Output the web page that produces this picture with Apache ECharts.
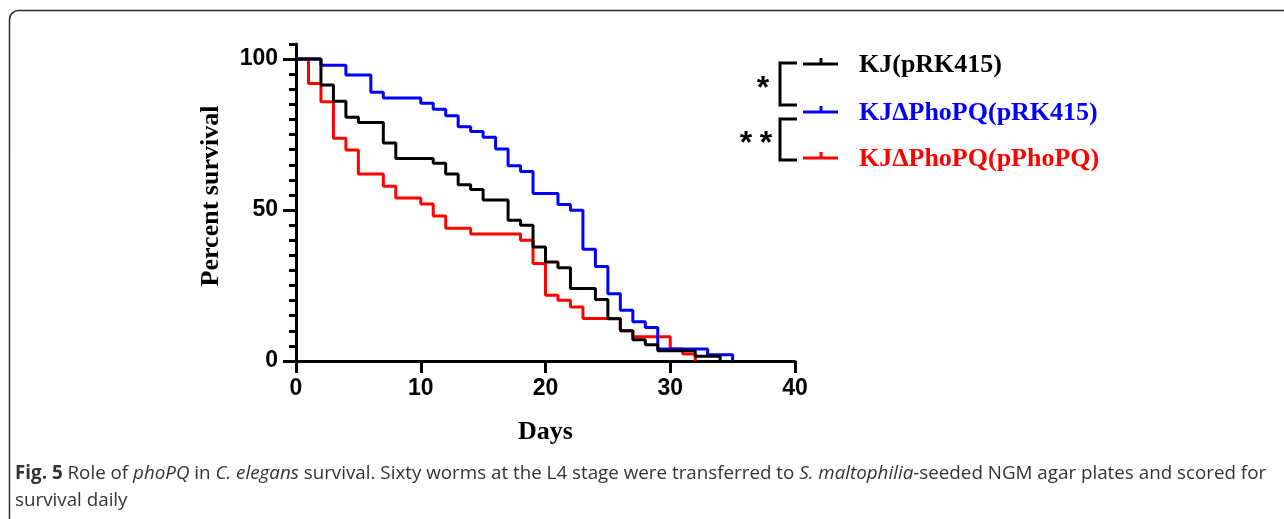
<!DOCTYPE html>
<html>
<head>
<meta charset="utf-8">
<script src="https://cdn.jsdelivr.net/npm/echarts@6/dist/echarts.min.js"></script>
<style>
html,body{margin:0;padding:0;background:#fff}
#main{width:1284px;height:519px}
</style>
</head>
<body>
<div id="main"></div>
<script>
// strain names / colours
var names=["KJ(pRK415)","KJΔPhoPQ(pRK415)","KJΔPhoPQ(pPhoPQ)"]
var colors=["#000000","#0000ff","#ff0000"]

// Kaplan-Meier steps (day, percent survival)
var kjDays=[0,2,3,4,5,7,8,11,12,13,14,15,17,18,19,20,21,22,24,25,26,27,28,29,32,34]
var kjSurv=[100,91.4,86.0,80.7,79.0,72.2,67.1,65.5,61.9,58.4,56.8,53.3,46.6,45.0,37.8,32.8,30.9,24.0,20.4,14.0,10.0,7.0,5.4,3.4,1.6,0]
var mutDays=[0,2,4,6,7,10,11,12,13,14,15,16,17,18,19,21,22,23,24,25,26,27,28,29,33,35]
var mutSurv=[100,98.0,94.7,89.0,87.1,85.4,83.4,81.2,77.6,76.0,74.1,70.2,64.7,62.8,55.5,51.8,49.9,37.0,31.3,22.3,16.8,13.0,11.1,4.0,2.1,0]
var compDays=[0,1,2,3,4,5,7,8,10,11,12,14,18,19,20,21,22,23,26,27,30,31,32]
var compSurv=[100,91.9,85.9,73.8,69.9,61.9,57.9,54.0,52.0,48.0,44.0,42.1,40.0,32.3,21.8,20.1,17.9,14.1,10.0,8.0,4.0,2.3,0]

var yMajor=[0,50,100]

function pairs(d,v){
	var out=[]
	for(var i=0;i<d.length;i++){out.push([d[i],v[i]])}
	return out
}

var mychart=echarts.init(document.getElementById('main'));

var legendY=[64,112,158]
var starFont='bold 32px "Liberation Sans"'
var graphics=[]
// frame round the figure
graphics.push({type:'rect',silent:true,shape:{x:9.5,y:10.5,width:1320,height:560,r:9},style:{fill:'none',stroke:'#2b2b2b',lineWidth:1.5}})
for(var i=0;i<3;i++){
	graphics.push({type:'line',shape:{x1:803,y1:legendY[i],x2:838,y2:legendY[i]},style:{stroke:colors[i],lineWidth:3}})
	graphics.push({type:'line',shape:{x1:821,y1:legendY[i]-6,x2:821,y2:legendY[i]},style:{stroke:colors[i],lineWidth:3}})
	graphics.push({type:'text',x:859,y:legendY[i]+1,style:{text:names[i],fill:colors[i],font:'bold 26px "Liberation Serif"',verticalAlign:'middle'}})
}
// significance brackets
graphics.push({type:'polyline',shape:{points:[[797,63],[780,63],[780,105],[797,105]]},style:{stroke:'#000',lineWidth:3,fill:'none'}})
graphics.push({type:'polyline',shape:{points:[[797,119],[780,119],[780,160],[797,160]]},style:{stroke:'#000',lineWidth:3,fill:'none'}})
graphics.push({type:'text',x:763,y:89,style:{text:'*',fill:'#000',font:starFont,align:'center',verticalAlign:'middle'}})
graphics.push({type:'text',x:746,y:144,style:{text:'*',fill:'#000',font:starFont,align:'center',verticalAlign:'middle'}})
graphics.push({type:'text',x:766,y:144,style:{text:'*',fill:'#000',font:starFont,align:'center',verticalAlign:'middle'}})
// y axis title
graphics.push({type:'text',x:211,y:196,rotation:Math.PI/2,style:{text:'Percent survival',fill:'#000',font:'bold 26px "Liberation Serif"',align:'center',verticalAlign:'middle'}})
// caption
graphics.push({type:'text',x:15,y:460,style:{
	text:'{b|Fig. 5} Role of {i|phoPQ} in {i|C. elegans} survival. Sixty worms at the L4 stage were transferred to {i|S. maltophilia}-seeded NGM agar plates and scored for\nsurvival daily',
	fill:'#333',font:'18.8px "Open Sans"',lineHeight:27,verticalAlign:'top',
	rich:{
		b:{fontWeight:'bold',fontFamily:'Open Sans',fontSize:18.8,fill:'#333',lineHeight:27},
		i:{fontStyle:'italic',fontFamily:'Open Sans',fontSize:18.8,fill:'#333',lineHeight:27}
	}
}})

var axisFont={color:'#000',fontFamily:'Liberation Sans',fontWeight:'bold',fontSize:23}

var option={
	animation:false,
	grid:{left:296,right:489,top:44,bottom:158},
	xAxis:{
		type:'value',min:0,max:40,interval:10,
		name:'Days',nameLocation:'middle',nameGap:58,
		nameTextStyle:{color:'#000',fontFamily:'Liberation Serif',fontWeight:'bold',fontSize:26},
		axisLine:{lineStyle:{color:'#000',width:3}},
		axisTick:{length:12,lineStyle:{color:'#000',width:3}},
		axisLabel:Object.assign({margin:16},axisFont),
		splitLine:{show:false}
	},
	yAxis:[{
		type:'value',min:0,max:105,interval:5,
		axisLine:{show:true,lineStyle:{color:'#000',width:3}},
		axisTick:{show:true,length:7,lineStyle:{color:'#000',width:3}},
		axisLabel:Object.assign({margin:18,customValues:yMajor},axisFont),
		splitLine:{show:false}
	},{
		// longer ticks at the labelled values
		type:'value',min:0,max:105,interval:5,position:'left',
		axisLine:{show:false},
		axisTick:{show:true,length:13,customValues:yMajor,lineStyle:{color:'#000',width:3}},
		axisLabel:{show:false},
		splitLine:{show:false}
	}],
	series:[{
		name:names[2],type:'line',step:'end',symbol:'none',z:2,
		lineStyle:{color:colors[2],width:3},
		data:pairs(compDays,compSurv)
	},{
		name:names[1],type:'line',step:'end',symbol:'none',z:3,
		lineStyle:{color:colors[1],width:3},
		data:pairs(mutDays,mutSurv)
	},{
		name:names[0],type:'line',step:'end',symbol:'none',z:4,
		lineStyle:{color:colors[0],width:3},
		data:pairs(kjDays,kjSurv)
	}],
	graphic:graphics
};
mychart.setOption(option);
</script>
</body>
</html>
